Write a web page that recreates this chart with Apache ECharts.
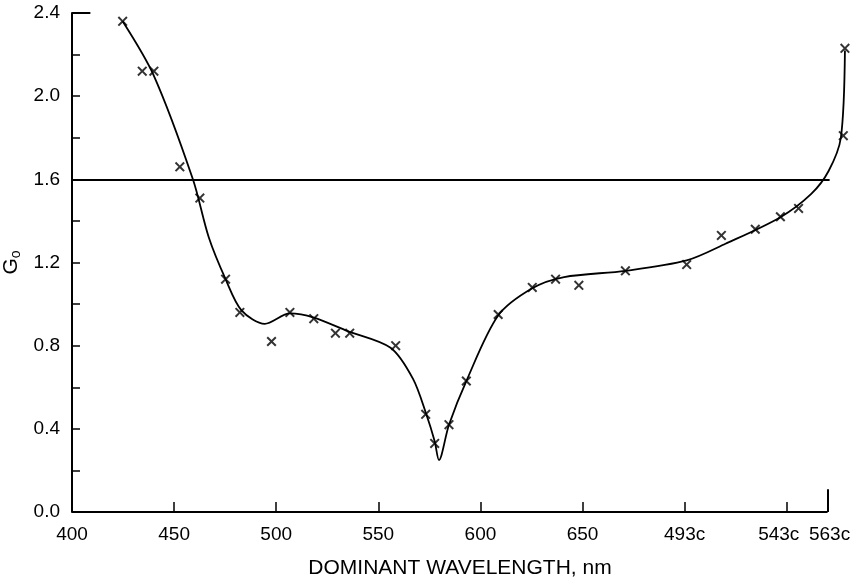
<!DOCTYPE html>
<html>
<head>
<meta charset="utf-8">
<script src="https://cdn.jsdelivr.net/npm/echarts@6/dist/echarts.min.js"></script>
<style>
  html, body { margin: 0; padding: 0; background: #fff; }
  #chart { width: 858px; height: 582px; }
</style>
</head>
<body>
<div id="chart"></div>
<script>
// measured points (x marks); 700 -> 493c, 750 -> 543c, 770 -> 563c on the axis
var pointX = [424.8, 434.4, 440.1, 452.8, 462.6, 475.2, 482.2, 497.7, 506.7, 518.4,
              529.0, 536.0, 558.5, 573.2, 577.6, 584.6, 593.1, 608.7, 625.4, 636.8,
              648.2, 671.0, 701.0, 718.0, 734.6, 746.9, 755.8, 777.7, 778.5];
var pointG = [2.36, 2.12, 2.12, 1.66, 1.51, 1.12, 0.96, 0.82, 0.96, 0.93,
              0.86, 0.86, 0.80, 0.47, 0.33, 0.42, 0.63, 0.95, 1.08, 1.12,
              1.09, 1.16, 1.19, 1.33, 1.36, 1.42, 1.46, 1.81, 2.23];

// fitted curve
var curveX = [424.8, 440.0, 459.2, 467.0, 475.2, 483.0, 494.4, 506.7, 518.4, 535.0,
              556.0, 567.0, 573.5, 577.6, 579.7, 584.6, 593.1, 608.7, 625.4, 641.0,
              671.0, 701.0, 720.0, 746.9, 762.0, 770.5, 776.5, 778.5];
var curveG = [2.36, 2.10, 1.60, 1.32, 1.12, 0.97, 0.905, 0.955, 0.935, 0.87,
              0.79, 0.64, 0.47, 0.34, 0.25, 0.42, 0.63, 0.945, 1.076, 1.13,
              1.16, 1.21, 1.29, 1.418, 1.53, 1.64, 1.80, 2.22];

var xTicks = [400, 450, 500, 550, 600, 650, 700, 750, 770];
var xTickNames = {400: '400', 450: '450', 500: '500', 550: '550', 600: '600',
                  650: '650', 700: '493c', 750: '{l|543c}', 770: '{r|563c}'};
var refLevel = 1.6;

var pts = pointX.map(function (x, i) { return [x, pointG[i]]; });
var crv = curveX.map(function (x, i) { return [x, curveG[i]]; });

var xMark = 'path://M0,1.4L1.4,0L5,3.6L8.6,0L10,1.4L6.4,5L10,8.6L8.6,10L5,6.4L1.4,10L0,8.6L3.6,5Z';
var fontFam = '"Liberation Sans", Arial, sans-serif';

var chart = echarts.init(document.getElementById('chart'));
chart.setOption({
  backgroundColor: '#fff',
  animation: false,
  grid: { left: 72, right: 10, top: 13, bottom: 70, outerBoundsMode: 'none', containLabel: false },
  xAxis: {
    type: 'value',
    min: 400, max: 780,
    name: 'DOMINANT WAVELENGTH, nm',
    nameLocation: 'middle',
    nameGap: 46,
    nameTextStyle: { color: '#000', fontSize: 21, fontFamily: fontFam },
    axisLine: { show: false },
    axisTick: { inside: true, length: 10, customValues: xTicks, lineStyle: { color: '#000', width: 1.5 } },
    axisLabel: {
      color: '#000', fontSize: 19, fontFamily: fontFam, margin: 13,
      customValues: xTicks, hideOverlap: false,
      formatter: function (v) { return xTickNames[v] || ''; },
      rich: {
        l: { fontSize: 19, color: '#000', fontFamily: fontFam, padding: [0, 16, 0, 0] },
        r: { fontSize: 19, color: '#000', fontFamily: fontFam, padding: [0, 0, 0, 4] }
      }
    },
    splitLine: { show: false }
  },
  yAxis: {
    type: 'value',
    min: 0, max: 2.4, interval: 0.4,
    name: '{g|G}{s|o}',
    nameLocation: 'middle',
    nameRotate: 90,
    nameGap: 46,
    nameTextStyle: {
      rich: {
        g: { fontSize: 21, color: '#000', fontFamily: fontFam },
        s: { fontSize: 14, color: '#000', fontFamily: fontFam, verticalAlign: 'bottom', padding: [9, 0, 0, 0] }
      }
    },
    axisLine: { show: true, lineStyle: { color: '#000', width: 2 } },
    axisTick: { inside: true, length: 8, lineStyle: { color: '#000', width: 1.5 } },
    minorTick: { show: true, splitNumber: 2, length: 8, lineStyle: { color: '#000', width: 1.5 } },
    axisLabel: {
      color: '#000', fontSize: 19, fontFamily: fontFam, margin: 12,
      formatter: function (v) { return v.toFixed(1); }
    },
    splitLine: { show: false }
  },
  series: [
    {
      type: 'line',
      data: crv,
      smooth: 0.3,
      clip: false,
      showSymbol: false,
      lineStyle: { color: '#000', width: 1.8 },
      markLine: {
        silent: true,
        symbol: ['none', 'none'],
        label: { show: false },
        lineStyle: { color: '#000', width: 2, type: 'solid' },
        data: [
          [{ coord: [400, refLevel] }, { coord: [771, refLevel] }],
          [{ coord: [400, 0] }, { coord: [770, 0] }],
          [{ coord: [770, 0] }, { coord: [770, 0.11] }],
          [{ coord: [400, 2.4] }, { coord: [409, 2.4] }]
        ]
      }
    },
    {
      type: 'scatter',
      data: pts,
      clip: false,
      symbol: xMark,
      symbolSize: 10,
      itemStyle: { color: '#000' }
    }
  ]
});
</script>
</body>
</html>
